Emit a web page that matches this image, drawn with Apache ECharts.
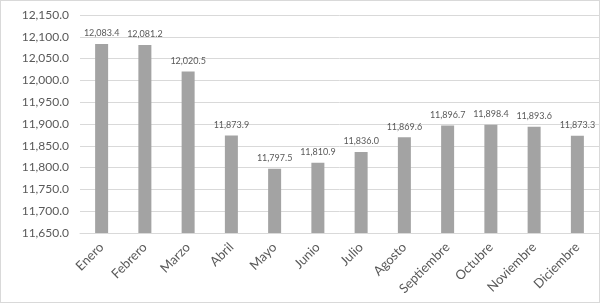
<!DOCTYPE html>
<html>
<head>
<meta charset="utf-8">
<script src="https://cdn.jsdelivr.net/npm/echarts@6/dist/echarts.min.js"></script>
<style>
  html, body { margin: 0; padding: 0; background: #fff; }
  #chart { width: 598px; height: 301px; border: 1px solid #d9d9d9; }
</style>
</head>
<body>
<div id="chart"></div>
<script>
var months = ['Enero', 'Febrero', 'Marzo', 'Abril', 'Mayo', 'Junio', 'Julio',
  'Agosto', 'Septiembre', 'Octubre', 'Noviembre', 'Diciembre'];
var values = [12083.4, 12081.2, 12020.5, 11873.9, 11797.5, 11810.9, 11836.0,
  11869.6, 11896.7, 11898.4, 11893.6, 11873.3];
var yMin = 11650, yMax = 12150, yStep = 50;

function fmt(v) {
  return v.toLocaleString('en-US', { minimumFractionDigits: 1, maximumFractionDigits: 1 });
}

var chart = echarts.init(document.getElementById('chart'), null, { renderer: 'canvas' });
chart.setOption({
  animation: false,
  backgroundColor: '#fff',
  textStyle: { fontFamily: 'Lato' },
  grid: { left: 79, right: 0, top: 14, bottom: 69, containLabel: false },
  xAxis: {
    type: 'category',
    data: months,
    axisLine: { lineStyle: { color: '#d9d9d9' } },
    axisTick: { show: false },
    axisLabel: { color: '#595959', fontSize: 13, rotate: 45, interval: 0, margin: 12 }
  },
  yAxis: {
    type: 'value', min: yMin, max: yMax, interval: yStep,
    axisLine: { show: false },
    axisTick: { show: false },
    axisLabel: { color: '#595959', fontSize: 12, margin: 11, formatter: fmt },
    splitLine: { lineStyle: { color: '#d9d9d9' } }
  },
  series: [{
    type: 'bar',
    data: values,
    barWidth: 13,
    itemStyle: { color: '#a3a3a3' },
    label: {
      show: true, position: 'top', distance: 6,
      color: '#595959', fontSize: 9, formatter: function(p) { return fmt(p.value); }
    }
  }]
});
</script>
</body>
</html>
